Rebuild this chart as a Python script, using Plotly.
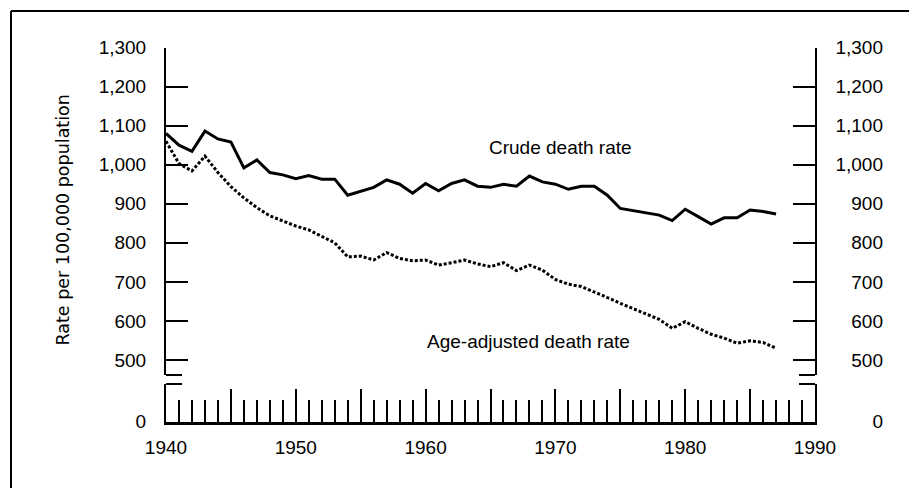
import plotly.graph_objects as go

# ---------------- data ----------------
years = list(range(1940, 1988))
crude_rate = [
    1080, 1050, 1034, 1086, 1066, 1058, 992, 1012, 980, 974,
    964, 972, 963, 963, 922, 933, 942, 961, 950, 927,
    952, 933, 952, 961, 945, 942, 950, 945, 971, 956,
    950, 937, 945, 945, 922, 888, 882, 877, 871, 857,
    886, 867, 848, 864, 864, 884, 880, 874,
]
age_adjusted_rate = [
    1060, 1003, 984, 1022, 980, 944, 915, 890, 869, 855,
    843, 833, 817, 800, 764, 766, 756, 775, 760, 754,
    756, 743, 749, 756, 746, 739, 749, 729, 743, 730,
    706, 694, 688, 675, 660, 645, 632, 618, 604, 581,
    598, 581, 566, 556, 543, 549, 545, 530,
]
y_tick_vals = [500, 600, 700, 800, 900, 1000, 1100, 1200, 1300]
y_tick_text = ["500", "600", "700", "800", "900", "1,000", "1,100", "1,200", "1,300"]
x_tick_vals = [1940, 1945, 1950, 1955, 1960, 1965, 1970, 1975, 1980, 1985, 1990]
x_tick_text = ["1940", "", "1950", "", "1960", "", "1970", "", "1980", "", "1990"]
labels = ["Crude death rate", "Age-adjusted death rate"]
y_title = "Rate per 100,000 population"

# ---------------- layout geometry (pixels, in window coordinates) ----------------
OFF = 8                      # page body margin offset
W, H = 917 - OFF, 488 - OFF  # figure size so it fits the window
ML, MR, MT, MB = 166 - OFF, 10, 20 - OFF, 20
PW, PH = W - ML - MR, H - MT - MB


def fx(px):
    return (px - OFF - ML) / PW


def fy(py):
    return (H - MB - (py - OFF)) / PH


X_RIGHT = 815
UP_TOP, UP_BOT = 47.5, 375.0
LO_TOP, LO_BOT = 384.0, 421.7
upper_range = [461.6, 1300]
lower_range = [0, 100]

FONT = "Liberation Sans"
tickfont = dict(family=FONT, size=19, color="black")
STANDOFF = 14

fig = go.Figure()
fig.add_trace(go.Scatter(
    x=years, y=crude_rate, mode="lines", name=labels[0],
    line=dict(color="black", width=3), showlegend=False, hoverinfo="skip"))
fig.add_trace(go.Scatter(
    x=years, y=age_adjusted_rate, mode="lines", name=labels[1],
    line=dict(color="black", width=3, dash="3px,2px"), showlegend=False,
    hoverinfo="skip"))
# empty traces so the extra axes (right labels, lower axis segment, end caps) are drawn
for ax in ["y2", "y3", "y4", "y5", "y6"]:
    fig.add_trace(go.Scatter(x=[None], y=[None], yaxis=ax, mode="lines",
                             showlegend=False, hoverinfo="skip"))

axis_common = dict(showgrid=False, zeroline=False, linecolor="black", tickcolor="black",
                   tickfont=tickfont, ticklabelstandoff=STANDOFF, automargin=False)
up_dom = [fy(UP_BOT), fy(UP_TOP)]
lo_dom = [fy(LO_BOT), fy(LO_TOP)]


def cap_axis(py):
    # helper axis whose single tick (value 0) sits at pixel row py: the short end cap
    return dict(**axis_common, domain=[fy(py + 10), fy(py - 10)], range=[-10, 10],
                anchor="x", showline=False, ticks="inside", ticklen=16,
                tickwidth=2, mirror="ticks", tickmode="array", tickvals=[0],
                showticklabels=False)


fig.update_layout(
    template="none",
    width=W, height=H,
    margin=dict(l=ML, r=MR, t=MT, b=MB, pad=0, autoexpand=False),
    paper_bgcolor="white", plot_bgcolor="rgba(0,0,0,0)",
    showlegend=False,
    xaxis=dict(
        **{**axis_common, "ticklabelstandoff": 6},
        domain=[0, fx(X_RIGHT)], range=[1940, 1990], anchor="y3",
        showline=True, linewidth=3, ticks="inside", ticklen=33, tickwidth=2,
        tickmode="array", tickvals=x_tick_vals, ticktext=x_tick_text,
        minor=dict(ticks="inside", ticklen=22, tickwidth=2, dtick=1, tick0=1940,
                   tickcolor="black"),
    ),
    yaxis=dict(
        **axis_common, domain=up_dom, range=upper_range, anchor="x",
        showline=True, linewidth=2, ticks="inside", ticklen=22, tickwidth=2,
        mirror="ticks", tickmode="array", tickvals=y_tick_vals, ticktext=y_tick_text,
    ),
    yaxis2=dict(
        **axis_common, domain=up_dom, range=upper_range,
        overlaying="y", anchor="free", position=fx(897), side="left",
        showline=False, ticks="", tickmode="array", tickvals=y_tick_vals,
        ticktext=y_tick_text,
    ),
    yaxis3=dict(
        **axis_common, domain=lo_dom, range=lower_range, anchor="x",
        showline=True, linewidth=2, ticks="inside", ticklen=22, tickwidth=2,
        mirror="ticks", tickmode="array", tickvals=[0], ticktext=["0"],
    ),
    yaxis4=dict(
        **axis_common, domain=lo_dom, range=lower_range,
        overlaying="y3", anchor="free", position=fx(897), side="left",
        showline=False, ticks="", tickmode="array", tickvals=[0], ticktext=["0"],
    ),
    # short end caps where the value axis is broken
    yaxis5=cap_axis(UP_BOT),
    yaxis6=cap_axis(LO_TOP),
)

fig.add_annotation(x=1970.43, y=1045, xref="x", yref="y", text=labels[0],
                   showarrow=False, xanchor="center", yanchor="middle",
                   font=dict(family=FONT, size=19, color="black"))
fig.add_annotation(x=1967.9, y=547, xref="x", yref="y", text=labels[1],
                   showarrow=False, xanchor="center", yanchor="middle",
                   font=dict(family=FONT, size=19, color="black"))
fig.add_annotation(x=fx(62), y=fy(220.5), xref="paper", yref="paper", text=y_title,
                   textangle=-90, showarrow=False, xanchor="center", yanchor="middle",
                   font=dict(family="DejaVu Sans", size=17.5, color="black"))

# outer frame (top and left edges)
fig.add_shape(type="line", xref="paper", yref="paper", x0=fx(11), x1=fx(917),
              y0=fy(11), y1=fy(11), line=dict(color="black", width=2))
fig.add_shape(type="line", xref="paper", yref="paper", x0=fx(11), x1=fx(11),
              y0=fy(11), y1=fy(488), line=dict(color="black", width=2))

fig.write_html("out.html")
